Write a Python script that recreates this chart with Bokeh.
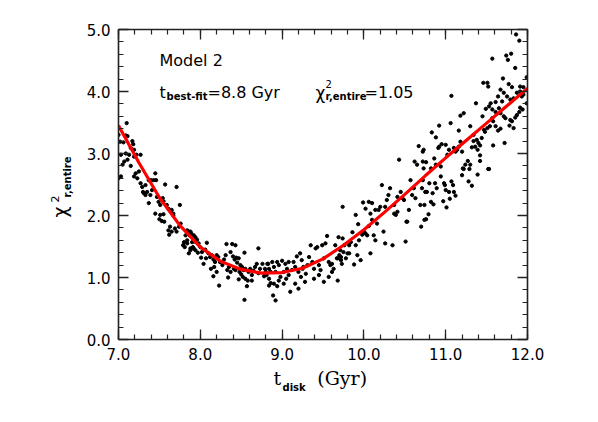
import math
from bokeh.plotting import figure
from bokeh.models import (Range1d, LinearAxis, SingleIntervalTicker,
                          PrintfTickFormatter, Label)
from bokeh.embed import file_html
from bokeh.resources import INLINE

# ---------------- data ----------------
t_fit = [7.00, 7.25, 7.50, 7.75, 8.00, 8.25, 8.50, 8.75, 9.00, 9.25, 9.50,
         9.75, 10.00, 10.25, 10.50, 10.75, 11.00, 11.25, 11.50, 11.75, 12.00]
chi_fit = [3.45, 2.85, 2.29, 1.84, 1.49, 1.26, 1.13, 1.07, 1.08, 1.15, 1.30,
           1.52, 1.77, 2.05, 2.34, 2.64, 2.93, 3.21, 3.49, 3.77, 4.05]

t_a = [7.10, 7.00, 7.09, 7.11, 7.02, 7.06, 7.17, 7.18, 7.15, 7.19,
       7.09, 7.03, 7.13, 7.22, 7.27, 7.19, 7.07, 7.05, 7.11, 7.15,
       7.00, 7.03, 7.21, 7.19, 7.25, 7.23, 7.37, 7.40, 7.45, 7.43,
       7.46, 7.27, 7.29, 7.33, 7.30, 7.33, 7.31, 7.35, 7.41, 7.39,
       7.57, 7.71, 7.47, 7.49, 7.37, 7.54, 7.55, 7.51, 7.59, 7.61,
       7.75, 7.45, 7.51, 7.55, 7.50, 7.53, 7.56, 7.65, 7.67, 7.67,
       7.63, 7.61, 7.65, 7.62, 7.69, 7.76, 7.74, 7.71, 7.84, 7.88,
       7.87, 7.82, 7.80, 7.79, 7.81, 7.84, 7.90, 7.92, 7.88]
chi_a = [3.49, 3.30, 3.29, 3.28, 3.19, 3.18, 3.20, 3.15, 3.09, 3.06,
         3.00, 2.98, 2.98, 2.98, 2.98, 2.95, 2.87, 2.82, 2.90, 2.80,
         2.60, 2.63, 2.68, 2.63, 2.71, 2.60, 2.57, 2.57, 2.68, 2.57,
         2.57, 2.52, 2.46, 2.49, 2.38, 2.33, 2.36, 2.38, 2.41, 2.33,
         2.50, 2.46, 2.30, 2.22, 2.20, 2.28, 2.23, 2.17, 2.17, 2.11,
         2.17, 2.03, 2.01, 2.02, 1.94, 1.91, 1.90, 2.09, 2.03, 2.00,
         1.82, 1.76, 1.74, 1.69, 1.79, 1.87, 1.82, 1.74, 1.76, 1.74,
         1.68, 1.68, 1.57, 1.52, 1.49, 1.55, 1.57, 1.47, 1.44]

t_b = [7.85, 7.89, 7.92, 7.84, 7.94, 7.96, 7.93, 7.98, 7.88, 7.91,
       7.86, 7.94, 8.00, 7.97, 8.02, 8.01, 8.06, 8.08, 8.10, 8.07,
       8.04, 8.12, 8.14, 8.16, 8.18, 8.20, 8.22, 8.13, 8.17, 8.20,
       8.24, 8.27, 8.29, 8.31, 8.32, 8.39, 8.43, 8.37, 8.40, 8.42,
       8.44, 8.45, 8.47, 8.35, 8.33, 8.37, 8.34, 8.41, 8.43, 8.49,
       8.51, 8.53, 8.55, 8.48, 8.50, 8.52, 8.55, 8.47, 8.54, 8.58,
       8.59, 8.61, 8.63, 8.65, 8.67, 8.69, 8.71, 8.71, 8.73, 8.76,
       8.78, 8.79, 8.80, 8.83, 8.84, 8.86, 8.63, 8.57, 8.54, 8.23,
       8.16]
chi_b = [1.75, 1.71, 1.68, 1.60, 1.65, 1.61, 1.58, 1.55, 1.47, 1.49,
         1.39, 1.44, 1.49, 1.40, 1.41, 1.32, 1.45, 1.56, 1.39, 1.31,
         1.22, 1.33, 1.36, 1.29, 1.25, 1.36, 1.33, 1.14, 1.17, 1.09,
         1.25, 1.20, 1.29, 1.36, 1.54, 1.54, 1.52, 1.41, 1.34, 1.29,
         1.32, 1.24, 1.31, 1.17, 1.12, 1.09, 1.00, 1.14, 1.12, 1.20,
         1.17, 1.12, 1.14, 1.09, 1.05, 1.01, 0.98, 0.97, 1.40, 0.95,
         1.09, 1.14, 1.04, 1.11, 1.17, 1.22, 1.47, 1.07, 1.14, 1.22,
         1.02, 1.14, 1.09, 1.22, 0.98, 1.09, 0.95, 0.86, 0.64, 0.87,
         1.02]

t_c = [8.82, 8.84, 8.81, 8.88, 8.90, 8.94, 8.96, 8.92, 8.86, 8.90,
       8.84, 8.94, 8.96, 8.98, 9.00, 9.02, 9.04, 9.06, 9.08, 9.05,
       9.02, 9.10, 8.89, 8.92, 9.14, 9.16, 9.18, 9.20, 9.22, 9.24,
       9.26, 9.23, 9.25, 9.29, 9.31, 9.33, 9.35, 9.37, 9.28, 9.20,
       9.16, 9.39, 9.41, 9.43, 9.45, 9.47, 9.49, 9.51, 9.53, 9.55,
       9.57, 9.59, 9.61, 9.63, 9.51, 9.57, 9.65, 9.67, 9.69, 9.71,
       9.72, 9.73, 9.75, 9.68, 9.61, 9.39, 9.45, 9.12, 9.08]
chi_c = [1.22, 1.14, 1.04, 1.25, 1.17, 1.25, 1.20, 1.09, 0.91, 0.90,
         0.87, 0.86, 0.95, 1.01, 1.27, 1.09, 1.22, 1.14, 1.04, 0.98,
         0.90, 0.77, 0.71, 0.63, 1.25, 1.17, 1.34, 1.09, 1.39, 1.28,
         1.17, 1.01, 1.14, 1.06, 1.20, 1.33, 1.52, 1.25, 0.93, 0.82,
         0.90, 1.14, 1.47, 1.49, 1.20, 1.12, 1.52, 1.31, 1.55, 1.67,
         1.25, 1.20, 1.09, 1.14, 0.93, 1.01, 1.52, 1.31, 1.65, 1.44,
         1.33, 1.22, 1.41, 0.95, 1.22, 0.98, 1.04, 1.12, 1.25]

t_d = [9.68, 9.70, 9.72, 9.74, 9.76, 9.78, 9.80, 9.82, 9.84, 9.86,
       9.88, 9.90, 9.92, 9.93, 9.94, 9.96, 9.98, 10.00, 10.02, 10.04,
       10.06, 10.08, 10.10, 10.12, 10.14, 10.16, 10.18, 10.20, 10.22, 10.24,
       10.26, 10.28, 10.30, 10.32, 10.35, 10.37, 10.39, 10.41, 10.43, 10.45,
       10.47, 10.49, 10.51, 10.52, 10.53, 10.55, 10.57, 10.59, 10.61, 10.62,
       10.63, 10.65, 10.67, 10.69, 10.70, 10.72, 10.73, 10.74, 10.75, 9.74,
       10.06, 10.10, 10.14, 10.08, 9.99, 10.02, 9.90, 9.82, 10.37, 10.41,
       10.26]
chi_d = [1.31, 1.36, 1.28, 1.63, 1.52, 1.31, 1.39, 1.52, 1.57, 1.73,
         1.21, 2.01, 1.36, 1.86, 1.60, 1.28, 1.69, 1.74, 1.71, 1.68,
         1.83, 1.39, 1.93, 1.68, 1.60, 1.87, 2.09, 2.14, 2.49, 1.74,
         1.55, 2.25, 2.33, 2.44, 1.52, 2.03, 2.01, 2.30, 2.90, 2.38,
         2.28, 2.25, 1.58, 1.90, 1.90, 2.09, 2.57, 2.33, 2.44, 2.87,
         2.28, 2.82, 3.12, 2.17, 1.82, 3.03, 2.76, 1.93, 2.38, 2.14,
         2.22, 2.20, 2.09, 2.03, 2.21, 2.11, 1.52, 1.39, 2.17, 2.06,
         2.14]

t_e = [11.86, 11.90, 11.57, 11.74, 11.76, 11.80, 11.85, 11.70, 11.46, 11.51,
       11.52, 11.77, 11.81, 11.91, 11.95, 11.99, 11.95, 11.99, 11.67, 11.71,
       11.64, 11.61, 11.69, 11.75, 11.79, 11.83, 11.87, 11.91, 11.93, 11.07,
       11.37, 11.55, 11.53, 11.45, 11.49, 11.57, 11.61, 11.65, 11.67, 11.71,
       11.73, 11.79, 11.81, 11.85, 11.87, 11.90, 11.91, 11.94, 11.57, 11.58,
       11.61, 11.64, 11.67, 11.78, 11.83, 11.18, 11.22, 10.92, 11.06, 11.30,
       11.34, 11.38, 11.40, 11.44, 11.47, 11.51, 11.54, 11.48, 10.83, 10.88,
       10.95, 10.92, 10.91, 11.00, 11.04, 11.02, 11.10, 11.12, 11.14, 11.16,
       11.18, 11.20, 11.16, 11.27, 11.24, 11.21, 11.30, 11.42, 11.42, 11.32,
       11.34, 11.36, 11.39, 11.42, 11.53, 11.58, 11.72, 10.86, 10.73, 10.72,
       10.76, 10.82, 10.88, 10.94, 10.80, 10.77, 10.87, 10.89, 10.98, 10.99,
       11.00, 11.04, 11.07, 11.09, 11.12, 11.10, 10.97, 11.01, 11.05, 11.28,
       11.32, 11.20, 10.72, 10.82, 10.85, 10.74, 10.79, 10.76, 10.94, 10.84,
       10.71, 11.22, 11.29, 11.39, 11.52]
chi_e = [4.92, 4.82, 4.53, 4.58, 4.51, 4.61, 4.38, 4.21, 4.14, 4.14,
         4.08, 4.12, 4.07, 4.08, 4.07, 4.23, 3.95, 3.81, 4.03, 3.98,
         3.92, 3.83, 3.84, 3.92, 3.87, 3.89, 3.98, 4.00, 3.92, 3.93,
         3.81, 3.81, 3.76, 3.60, 3.72, 3.71, 3.67, 3.73, 3.65, 3.60,
         3.57, 3.54, 3.52, 3.58, 3.62, 3.67, 3.74, 3.71, 3.57, 3.52,
         3.44, 3.37, 3.40, 3.45, 3.41, 3.61, 3.65, 3.45, 3.49, 3.44,
         3.30, 3.22, 3.17, 3.25, 3.38, 3.41, 3.44, 3.35, 3.34, 3.26,
         3.15, 3.11, 3.09, 3.14, 3.06, 2.98, 3.09, 3.03, 3.06, 3.11,
         3.19, 3.03, 3.37, 2.88, 2.82, 2.76, 2.82, 2.97, 3.13, 3.10,
         3.20, 3.11, 3.06, 2.88, 2.75, 3.13, 3.17, 2.92, 3.06, 2.87,
         2.86, 2.76, 2.82, 2.63, 2.52, 2.38, 2.52, 2.44, 2.52, 2.49,
         2.41, 2.38, 2.55, 2.49, 2.32, 2.38, 2.23, 2.13, 2.27, 2.55,
         2.48, 2.65, 2.57, 2.22, 2.18, 2.17, 2.02, 1.94, 2.79, 2.36,
         2.44, 2.75, 2.75, 2.66, 2.75]

t_data = t_a + t_b + t_c + t_d + t_e
chi_data = chi_a + chi_b + chi_c + chi_d + chi_e

# ---------------- figure ----------------
p = figure(frame_width=409, frame_height=310,
           x_range=Range1d(7, 12), y_range=Range1d(0, 5),
           x_axis_type=None, y_axis_type=None,
           output_backend="svg", toolbar_location=None,
           min_border_left=118, min_border_right=63,
           min_border_top=29, min_border_bottom=75)
p.outline_line_color = None
p.background_fill_color = "white"
p.border_fill_color = "white"

TICK_FONT = "DejaVu Sans"


def make_axis(labels=True):
    ax = LinearAxis(ticker=SingleIntervalTicker(interval=1, num_minor_ticks=5),
                    formatter=PrintfTickFormatter(format="%.1f"))
    ax.major_tick_in = 10
    ax.major_tick_out = 0
    ax.minor_tick_in = 5
    ax.minor_tick_out = 0
    ax.axis_line_color = "#222222"
    ax.axis_line_width = 1.6
    ax.major_tick_line_color = "#222222"
    ax.minor_tick_line_color = "#222222"
    ax.major_tick_line_width = 1.3
    ax.minor_tick_line_width = 1.2
    ax.major_label_text_font = TICK_FONT
    ax.major_label_text_font_size = "15px"
    ax.major_label_text_color = "black"
    ax.major_label_standoff = 8
    if not labels:
        ax.major_label_text_color = None
        ax.major_label_text_font_size = "1px"
        ax.major_label_standoff = 0
    return ax


p.add_layout(make_axis(True), "below")
p.add_layout(make_axis(True), "left")
p.add_layout(make_axis(False), "above")
p.add_layout(make_axis(False), "right")

p.scatter(t_data, chi_data, marker="circle", size=3.3,
          fill_color="black", line_color="black")
p.line(t_fit, chi_fit, line_color="#ff0000", line_width=3.2)


def lab(x, y, text, size, bold=False, angle=0.0, font="DejaVu Sans",
        place="center"):
    p.add_layout(Label(x=x, y=y, x_units="screen", y_units="screen",
                       text=text, text_font=font,
                       text_font_size=f"{size}px",
                       text_font_style="bold" if bold else "normal",
                       text_color="black", text_align="left",
                       text_baseline="alphabetic", angle=angle), place)


# annotations inside the frame (screen px relative to frame bottom-left)
lab(41, 279, "Model 2", 16)
lab(41, 247, "t", 16)
lab(48, 243, "best-fit", 10, bold=True)
lab(89, 247, "=8.8 Gyr", 16)
lab(197, 247, "\u03c7", 17)
lab(207, 256, "2", 10)
lab(207, 243, "r,entire", 10, bold=True)
lab(246, 247, "=1.05", 16)

# x axis title: t_disk (Gyr)  (side-panel labels are not clipped)
lab(155, 7, "t\u2003\u2002\u2009\u2009(Gyr)", 19, font="DejaVu Serif",
    place="below")
lab(164, 8, "disk", 10, bold=True, place="below")

# y axis title: chi^2_{r,entire}
A = math.pi / 2
lab(-2, 122, "\u03c7", 19, angle=A, place="left")
lab(1, 137, "2", 11, angle=A, place="left")
lab(25, 142, "r,entire", 10, bold=True, angle=A, place="left")

open("out.html", "w").write(file_html(p, INLINE))
